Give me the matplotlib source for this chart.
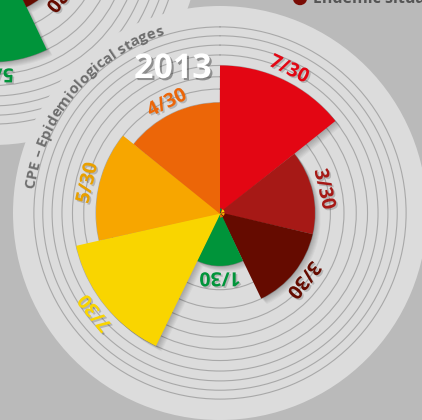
import numpy as np
import matplotlib
matplotlib.use("Agg")
import matplotlib.pyplot as plt
import matplotlib.patheffects as pe
from matplotlib.transforms import ScaledTranslation

# stages of the 2013 wheel, clockwise from the top
stages = ["7/30", "3/30", "3/30", "1/30", "7/30", "5/30", "4/30"]
counts = [7, 3, 3, 1, 7, 5, 4]
colors = ["#e30613", "#a61916", "#650b00", "#00943a", "#f9d500", "#f7a600", "#ec6608"]
label_colors = ["#e30613", "#a61916", "#650b00", "#00943a", "#f9d500", "#e8a000", "#ec6608"]
year = "2013"
wheel_title = "CPE \u2013 Epidemiological stages"
legend_text = "Endemic situation"

# neighbouring wheel, only its corner shows (green and dark red slices)
nb_counts = [5, 2]
nb_slots = [3, 2]
nb_colors = ["#00943a", "#650b00"]
nb_labels = ["5/30", "2/30"]

W, H = 422, 420
PX = 57.5      # pixels per radial unit
R0 = 0.08      # radius value at the centre
BG = "#bababa"
DISK = "#dcdcdc"
RING = "#a8a8a8"

fig = plt.figure(figsize=(W / 100, H / 100), dpi=100)
fig.patch.set_facecolor(BG)


def wheel(cx, cy, rad_px, zorder):
    ax = fig.add_axes([(cx - rad_px) / W, (H - cy - rad_px) / H, 2 * rad_px / W, 2 * rad_px / H],
                      projection="polar", zorder=zorder)
    ax.set_theta_zero_location("N")
    ax.set_theta_direction(-1)
    ax.set_ylim(R0, rad_px / PX + R0)
    ax.set_facecolor(DISK)
    ax.spines["polar"].set_visible(False)
    ax.set_thetagrids([])
    ax.set_rgrids(np.sqrt(np.arange(1, 12)), labels=[])
    ax.yaxis.grid(True, color=RING, lw=0.8)
    ax.xaxis.grid(False)
    ax.set_axisbelow(True)
    return ax


def px_shift(dx, dy):
    return ScaledTranslation(dx / 100, -dy / 100, fig.dpi_scale_trans)


def draw_bars(ax, theta, vals, cols, width):
    heights = np.sqrt(vals)
    # soft drop shadow
    for d in range(1, 8):
        ax.bar(theta, heights, width=width, bottom=0, color="black", alpha=0.035,
               lw=0, zorder=2, transform=ax.transData + px_shift(d * 0.8, d * 0.8))
    ax.bar(theta, heights, width=width, bottom=0, color=cols, lw=0, zorder=3)
    return heights


label_fx = [pe.withSimplePatchShadow(offset=(1.2, -1.2), shadow_rgbFace="#000000", alpha=0.18)]
label_font = dict(fontsize=14, fontweight="bold", family="Open Sans")


def draw_labels(ax, theta, heights, labels, cols):
    for th, hh, lab, c in zip(theta, heights, labels, cols):
        ax.text(th, hh + 0.2, lab, rotation=-np.degrees(th), rotation_mode="anchor",
                ha="center", va="center", color=c, path_effects=label_fx, zorder=4, **label_font)


step = 2 * np.pi / 7

# ---- neighbour wheel (top-left, mostly off canvas)
nb = wheel(-7, -62, 207, 1)
nb_theta = (np.array(nb_slots) + 0.5) * step
h = draw_bars(nb, nb_theta, nb_counts, nb_colors, step)
draw_labels(nb, nb_theta, h, nb_labels, nb_colors)

# ---- main wheel
ax = wheel(220, 213, 207, 2)
theta = (np.arange(len(counts)) + 0.5) * step
h = draw_bars(ax, theta, counts, colors, step)
draw_labels(ax, theta, h, stages, label_colors)

# curved title along the rim
renderer = fig.canvas.get_renderer()
font = dict(fontsize=10.8, fontweight="bold", family="Open Sans")


def width_px(s):
    t = fig.text(0, 0, s, **font)
    w = t.get_window_extent(renderer).width
    t.remove()
    return w


r_base = 187.0
phi0 = np.radians(172.5)
for i, ch in enumerate(wheel_title):
    if ch == " ":
        continue
    pos = width_px(wheel_title[:i + 1]) - width_px(ch) / 2
    phi = phi0 - pos / r_base
    ax.text(np.pi / 2 - phi, r_base / PX + R0, ch, rotation=np.degrees(phi) - 90,
            rotation_mode="anchor", ha="center", va="baseline", color="#6e6e6e", zorder=5, **font)

# year
fig.text(173 / W, 1 - 69 / H, year, ha="center", va="center", color="white", fontsize=24.5,
         fontweight="bold", family="Open Sans", zorder=10,
         path_effects=[pe.withSimplePatchShadow(offset=(1.5, -1.5), shadow_rgbFace="#333333", alpha=0.45)])

# legend entry cut by the top edge
fig.patches.append(matplotlib.patches.Circle((300 / W, 1 + 2 / H), 6.5 / H, transform=fig.transFigure,
                                             color="#7a0c05", zorder=10))
fig.text(313 / W, 1 - 3 / H, legend_text, ha="left", va="baseline", color="#555555", fontsize=11.5,
         fontweight="bold", family="Open Sans", zorder=10)

fig.savefig("out.png", dpi=100, facecolor=BG)
